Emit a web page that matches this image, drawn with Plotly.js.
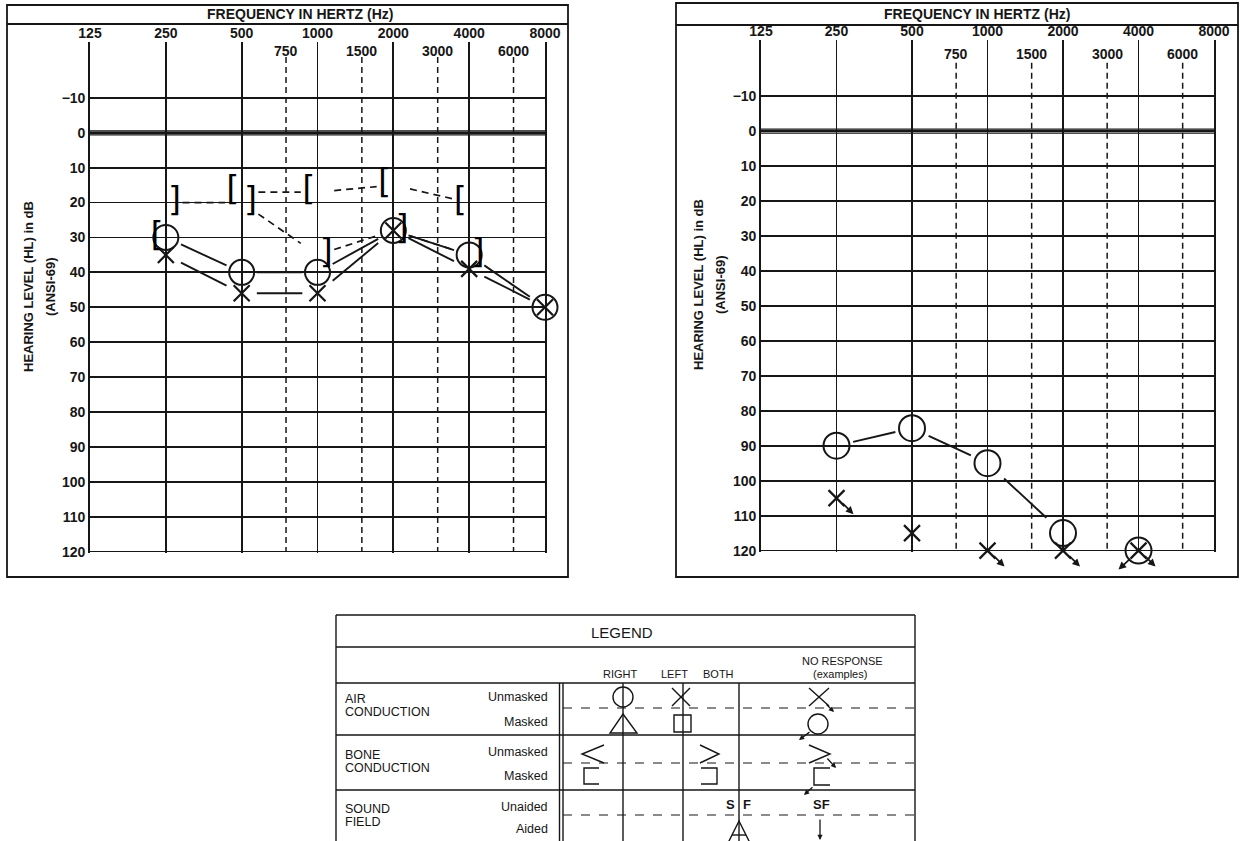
<!DOCTYPE html>
<html>
<head>
<meta charset="utf-8">
<script src="https://cdn.plot.ly/plotly-3.0.1.min.js"></script>
<style>html,body{margin:0;padding:0;background:#fff;}</style>
</head>
<body>
<div id="chart" style="width:1247px;height:841px;"></div>
<script>
// ---------------- DATA ----------------
const octaveFreqs  = [125, 250, 500, 1000, 2000, 4000, 8000];
const octaveLabels = ['125', '250', '500', '1000', '2000', '4000', '8000'];
const interFreqs   = [750, 1500, 3000, 6000];
const interLabels  = ['750', '1500', '3000', '6000'];
const dbTicks      = [-10, 0, 10, 20, 30, 40, 50, 60, 70, 80, 90, 100, 110, 120];
const dbLabels     = ['\u221210', '0', '10', '20', '30', '40', '50', '60', '70', '80', '90', '100', '110', '120'];

// Left audiogram
const leftAirFreqs        = [250, 500, 1000, 2000, 4000, 8000];
const leftRightAir        = [30, 40, 40, 28, 35, 50];   // O
const leftLeftAir         = [35, 46, 46, 28, 39, 50];   // X
const leftBoneFreqs       = [250, 500, 1000, 2000, 4000];
const leftRightBoneMasked = [30, 17, 17, 15, 20];       // [
const leftLeftBoneMasked  = [20, 20, 35, 28, 35];       // ]

// Right audiogram
const rightAirFreqs       = [250, 500, 1000, 2000, 4000];
const rightRightAir       = [90, 85, 95, 115, 120];     // O
const rightRightNoResp    = [false, false, false, false, true];
const rightLeftAir        = [105, 115, 120, 120, 120];  // X
const rightLeftNoResp     = [true, false, true, true, true];

// ---------------- HELPERS ----------------
const W = 1247, H = 841;
const PX = x => x / W;
const PY = y => 1 - y / H;
const INK = '#161616';
const FONT = '"Liberation Sans", Arial, sans-serif';
const boldFont = s => ({family: FONT, size: s, color: INK, weight: 'bold'});
const regFont = s => ({family: FONT, size: s, color: INK});

function gapped(xs, ys, f) {
  const X = [], Y = [];
  for (let i = 0; i < xs.length - 1; i++) {
    const a = Math.log10(xs[i]), b = Math.log10(xs[i + 1]);
    const p = t => [Math.pow(10, a + (b - a) * t), ys[i] + (ys[i + 1] - ys[i]) * t];
    const s = p(f), e = p(1 - f);
    X.push(s[0], e[0], null); Y.push(s[1], e[1], null);
  }
  return {x: X, y: Y};
}

function lineTrace(xs, ys, f, xa, ya, dash, w) {
  const g = gapped(xs, ys, f);
  return {type: 'scatter', mode: 'lines', x: g.x, y: g.y, xaxis: xa, yaxis: ya, cliponaxis: false,
    line: {color: INK, width: w || 1.9, dash: dash || 'solid'}, hoverinfo: 'skip', showlegend: false};
}

function dashedGrid(xa, ya, yStart) {
  const x = [], y = [];
  interFreqs.forEach(f => { x.push(f, f, null); y.push(yStart, 120, null); });
  return {type: 'scatter', mode: 'lines', x, y, xaxis: xa, yaxis: ya,
    line: {color: INK, width: 1.5, dash: '6px,4px'}, hoverinfo: 'skip', showlegend: false};
}

function markerTrace(xs, ys, symbol, size, xa, ya, lw) {
  return {type: 'scatter', mode: 'markers', x: xs, y: ys, xaxis: xa, yaxis: ya, cliponaxis: false,
    marker: {symbol, size, color: INK, line: {color: INK, width: lw || 2}},
    hoverinfo: 'skip', showlegend: false};
}

function bracketTrace(xs, ys, ch, pos, xa, ya) {
  return {type: 'scatter', mode: 'text', x: xs, y: ys, xaxis: xa, yaxis: ya, cliponaxis: false,
    text: xs.map(() => ch), textposition: pos,
    textfont: {family: '"DejaVu Sans Mono", monospace', size: 33, color: '#000000'},
    hoverinfo: 'skip', showlegend: false};
}

function xAxis(x0, x1, anchor) {
  return {domain: [PX(x0), PX(x1)], type: 'log', range: [Math.log10(125), Math.log10(8000)],
    side: 'top', anchor, tickvals: octaveFreqs, ticktext: octaveLabels, ticks: '',
    showgrid: true, gridcolor: INK, gridwidth: 1.7, zeroline: false, showline: false,
    tickfont: boldFont(14), fixedrange: true};
}
function yAxis(yTop, yBot, anchor) {
  return {domain: [PY(yBot), PY(yTop)], range: [120.4, -26], tickvals: dbTicks, ticktext: dbLabels,
    ticks: '', showgrid: true, gridcolor: INK, gridwidth: 1.8, zeroline: false,
    showline: true, mirror: true, linecolor: INK, linewidth: 1.8, anchor,
    tickfont: boldFont(14), fixedrange: true};
}

// ---------------- TRACES ----------------
const traces = [
  // left chart
  dashedGrid('x', 'y', -21.7),
  lineTrace(leftAirFreqs, leftRightAir, 0.2, 'x', 'y'),
  lineTrace(leftAirFreqs, leftLeftAir, 0.2, 'x', 'y'),
  lineTrace(leftBoneFreqs.slice(1), leftRightBoneMasked.slice(1), 0.22, 'x', 'y', '7px,5px', 1.7),
  lineTrace(leftBoneFreqs, leftLeftBoneMasked, 0.22, 'x', 'y', '7px,5px', 1.7),
  markerTrace(leftAirFreqs, leftRightAir, 'circle-open', 25, 'x', 'y'),
  markerTrace(leftAirFreqs, leftLeftAir, 'x-thin-open', 16, 'x', 'y', 2.2),
  bracketTrace(leftBoneFreqs, leftRightBoneMasked, '[', 'middle left', 'x', 'y'),
  bracketTrace(leftBoneFreqs, leftLeftBoneMasked, ']', 'middle right', 'x', 'y'),
  // right chart
  dashedGrid('x2', 'y2', -19.5),
  lineTrace(rightAirFreqs.slice(0, 4), rightRightAir.slice(0, 4), 0.22, 'x2', 'y2'),
  markerTrace(rightAirFreqs, rightRightAir, 'circle-open', 26, 'x2', 'y2'),
  markerTrace(rightAirFreqs, rightLeftAir, 'x-thin-open', 16, 'x2', 'y2', 2.2)
];

// ---------------- ANNOTATIONS ----------------
const annotations = [];
function addText(text, x, y, font, xanchor, extra) {
  annotations.push(Object.assign({xref: 'paper', yref: 'paper', x: PX(x), y: PY(y), text,
    showarrow: false, font, xanchor: xanchor || 'center', yanchor: 'middle'}, extra || {}));
}
// chart titles and axis titles
addText('FREQUENCY IN HERTZ (Hz)', 300, 14, boldFont(14));
addText('FREQUENCY IN HERTZ (Hz)', 977, 14, boldFont(14));
addText('HEARING LEVEL (HL) in dB', 28, 287, boldFont(13), 'center', {textangle: -90});
addText('(ANSI-69)', 50, 287, boldFont(13), 'center', {textangle: -90});
addText('HEARING LEVEL (HL) in dB', 698, 285, boldFont(13), 'center', {textangle: -90});
addText('(ANSI-69)', 720, 285, boldFont(13), 'center', {textangle: -90});
// inter-octave labels
interFreqs.forEach((f, i) => {
  annotations.push({xref: 'x', yref: 'paper', x: Math.log10(f), y: PY(51), text: interLabels[i],
    showarrow: false, font: boldFont(14), yanchor: 'middle'});
  annotations.push({xref: 'x2', yref: 'paper', x: Math.log10(f), y: PY(54), text: interLabels[i],
    showarrow: false, font: boldFont(14), yanchor: 'middle'});
});
// no-response arrows
function nrArrows(freqs, vals, flags, xa, ya, dir) {
  freqs.forEach((f, i) => {
    if (!flags[i]) return;
    annotations.push({xref: xa, yref: ya, x: Math.log10(f), y: vals[i], text: '', showarrow: true,
      arrowhead: 2, arrowsize: 0.9, arrowwidth: 1.7, arrowcolor: INK,
      xshift: dir > 0 ? 17 : -20, yshift: dir > 0 ? -16 : -19,
      ax: dir > 0 ? -12 : 13, ay: -12});
  });
}
nrArrows(rightAirFreqs, rightLeftAir, rightLeftNoResp, 'x2', 'y2', 1);
nrArrows(rightAirFreqs, rightRightAir, rightRightNoResp, 'x2', 'y2', -1);

// ---------------- SHAPES ----------------
const shapes = [];
const L = (x0, y0, x1, y1, w, dash) => shapes.push({type: 'line', xref: 'paper', yref: 'paper',
  x0: PX(x0), y0: PY(y0), x1: PX(x1), y1: PY(y1), line: {color: INK, width: w || 1.4, dash: dash || 'solid'}});
const R = (x0, y0, x1, y1, w) => shapes.push({type: 'rect', xref: 'paper', yref: 'paper',
  x0: PX(x0), y0: PY(y1), x1: PX(x1), y1: PY(y0), line: {color: INK, width: w || 1.4}});
const C = (cx, cy, rx, ry, w) => shapes.push({type: 'circle', xref: 'paper', yref: 'paper',
  x0: PX(cx - rx), x1: PX(cx + rx), y0: PY(cy + ry), y1: PY(cy - ry), line: {color: INK, width: w || 1.4}});
const P = (pts, closed, w) => shapes.push({type: 'path', xref: 'paper', yref: 'paper',
  path: pts.map((p, i) => (i ? 'L' : 'M') + PX(p[0]) + ',' + PY(p[1])).join(' ') + (closed ? ' Z' : ''),
  line: {color: INK, width: w || 1.4}});
const A = (hx, hy, tx, ty) => annotations.push({xref: 'paper', yref: 'paper', x: PX(hx), y: PY(hy),
  text: '', showarrow: true, arrowhead: 2, arrowsize: 0.8, arrowwidth: 1.3, arrowcolor: INK,
  ax: tx - hx, ay: ty - hy});

// chart frames
R(7, 5, 568, 577, 1.8); L(7, 24, 568, 24, 1.8);
R(676, 3, 1238, 577, 1.8); L(676, 25, 1238, 25, 1.8);
// double 0 dB lines
[['x', 'y'], ['x2', 'y2']].forEach(([xa, ya]) => {
  shapes.push({type: 'line', xref: xa + ' domain', yref: ya, x0: 0, x1: 1, y0: -0.5, y1: -0.5, line: {color: INK, width: 1.3}});
  shapes.push({type: 'line', xref: xa + ' domain', yref: ya, x0: 0, x1: 1, y0: 0.6, y1: 0.6, line: {color: INK, width: 1.3}});
});

// legend table
L(336, 615, 915, 615); L(336, 647, 915, 647); L(336, 683, 915, 683);
L(336, 735, 915, 735); L(336, 790, 915, 790);
L(563, 708, 915, 708, 1.2, 'dash'); L(563, 763, 915, 763, 1.2, 'dash'); L(563, 815, 915, 815, 1.2, 'dash');
L(336, 615, 336, 841); L(915, 615, 915, 841);
L(559.5, 683, 559.5, 841); L(563, 683, 563, 841);
L(623, 683, 623, 841); L(683, 683, 683, 841); L(739, 683, 739, 841);
// air conduction glyphs
C(623, 697, 10, 10);
L(672, 688, 690, 706); L(690, 688, 672, 706);
L(809, 688, 829, 706); L(829, 688, 809, 706); A(834, 712, 825, 703);
P([[623, 714], [637, 733], [610, 733]], true);
R(674, 715, 691, 732);
C(818, 724, 10, 10); A(799, 740, 811, 731);
// bone conduction glyphs
P([[604, 745], [582, 754], [604, 763]]);
P([[700, 745], [719, 754], [700, 763]]);
P([[809, 745], [830, 754], [809, 763]]); A(836, 768, 826, 757);
P([[599, 768], [584, 768], [584, 784], [599, 784]]);
P([[701, 768], [717, 768], [717, 784], [701, 784]]);
P([[830, 768], [814, 768], [814, 785], [830, 785]]); A(804, 795, 814, 786);
// sound field glyphs
P([[739, 821], [750, 843], [728, 843]], true); L(732, 835, 746, 835);
A(820, 840, 820, 818);

// legend texts
addText('LEGEND', 622, 632, regFont(15));
addText('NO RESPONSE', 843, 661, regFont(11));
addText('(examples)', 840, 674, regFont(11));
addText('RIGHT', 620, 674, regFont(11));
addText('LEFT', 675, 674, regFont(11));
addText('BOTH', 718, 674, regFont(11));
addText('AIR', 343, 699, regFont(12.5), 'left');
addText('CONDUCTION', 343, 712, regFont(12.5), 'left');
addText('Unmasked', 550, 697, regFont(12.5), 'right');
addText('Masked', 550, 722, regFont(12.5), 'right');
addText('BONE', 343, 755, regFont(12.5), 'left');
addText('CONDUCTION', 343, 768, regFont(12.5), 'left');
addText('Unmasked', 550, 752, regFont(12.5), 'right');
addText('Masked', 550, 776, regFont(12.5), 'right');
addText('SOUND', 343, 809, regFont(12.5), 'left');
addText('FIELD', 343, 822, regFont(12.5), 'left');
addText('Unaided', 550, 807, regFont(12.5), 'right');
addText('Aided', 550, 829, regFont(12.5), 'right');
addText('S', 731, 804, boldFont(13));
addText('F', 747, 804, boldFont(13));
addText('SF', 821, 804, boldFont(13));

// ---------------- LAYOUT ----------------
const layout = {
  width: W, height: H,
  margin: {l: 0, r: 0, t: 0, b: 0},
  paper_bgcolor: '#ffffff', plot_bgcolor: '#ffffff',
  showlegend: false,
  font: {family: FONT, color: INK},
  xaxis: xAxis(90, 545, 'y'),
  yaxis: yAxis(42, 553, 'x'),
  xaxis2: xAxis(761, 1214, 'y2'),
  yaxis2: yAxis(40, 552, 'x2'),
  shapes, annotations
};

Plotly.newPlot('chart', traces, layout, {staticPlot: true, displayModeBar: false});
</script>
</body>
</html>
